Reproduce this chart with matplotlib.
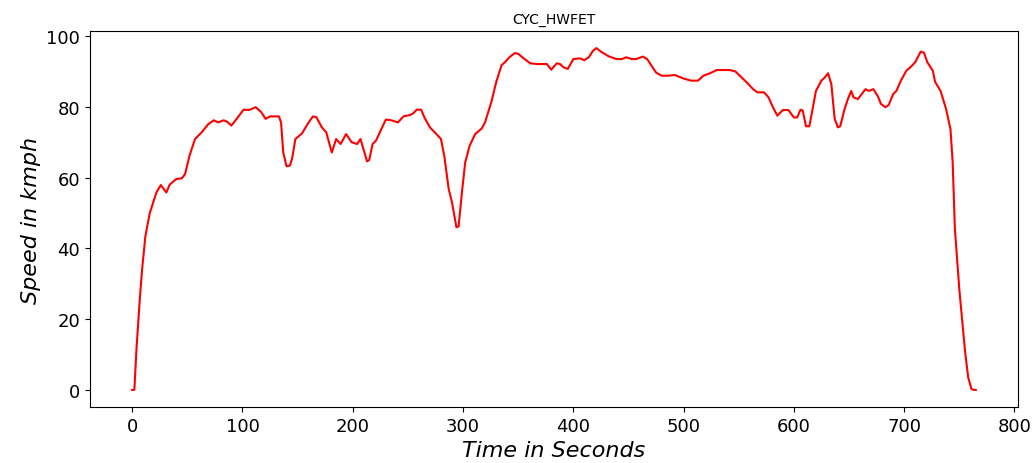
import matplotlib
matplotlib.use("Agg")
import matplotlib.pyplot as plt
import numpy as np

# Highway fuel economy test cycle: time (s) and speed (km/h)
time_s = [0, 2, 4, 7, 9, 12, 16, 22, 26, 31, 34, 40, 45, 48, 52, 57, 63, 69, 74, 78,
          83, 86, 90, 95, 101, 106, 112, 117, 121, 125, 133, 135, 137, 140, 143, 145, 148, 154,
          160, 164, 167, 172, 176, 181, 185, 189, 194, 199, 204, 207, 213, 215, 218, 221,
          226, 230, 235, 241, 246, 252, 255, 258, 262, 265, 270, 275, 280, 283, 287, 290,
          294, 296, 299, 302, 306, 311, 317, 320, 326, 330, 335, 338, 342, 347, 350, 355,
          361, 367, 376, 380, 385, 388, 391, 395, 400, 406, 410, 414, 418, 421, 425, 432,
          439, 444, 448, 453, 457, 463, 467, 471, 475, 480, 486, 492, 496, 501, 507, 513,
          518, 524, 530, 536, 542, 547, 552, 558, 563, 567, 573, 577, 581, 585, 590, 595,
          600, 603, 606, 608, 611, 614, 617, 620, 625, 628, 631, 634, 637, 640, 642, 646,
          649, 652, 654, 658, 665, 668, 672, 676, 679, 683, 686, 690, 693, 697, 702, 706,
          710, 715, 718, 721, 726, 728, 733, 738, 742, 744, 746, 750, 755, 758, 761, 763, 765]
speed_kmph = [0.0, 0.0, 12.0, 26.0, 34.0, 43.5, 50.0, 55.8, 57.9, 55.8, 58.0, 59.6, 59.8, 61.0,
              66.2, 70.9, 72.8, 75.1, 76.2, 75.6, 76.2, 75.8, 74.7, 76.7, 79.2, 79.1, 79.9,
              78.5, 76.6, 77.3, 77.3, 75.6, 67.1, 63.2, 63.4, 65.3, 70.9, 72.5, 75.6, 77.3,
              77.1, 74.2, 72.8, 67.1, 70.9, 69.5, 72.3, 70.0, 69.5, 70.9, 64.6, 65.0, 69.5,
              70.4, 73.7, 76.4, 76.2, 75.6, 77.3, 77.7, 78.2, 79.2, 79.2, 77.0, 74.2, 72.6,
              70.9, 66.2, 56.8, 53.0, 46.0, 46.2, 55.8, 64.3, 69.0, 72.3, 73.9, 75.6, 81.7,
              86.9, 91.8, 92.6, 94.0, 95.2, 95.0, 93.7, 92.3, 92.1, 92.1, 90.5, 92.3, 92.1,
              91.2, 90.7, 93.5, 93.7, 93.2, 94.0, 95.9, 96.6, 95.6, 94.3, 93.5, 93.5, 94.0,
              93.5, 93.5, 94.2, 93.5, 91.6, 89.7, 88.8, 88.8, 89.0, 88.5, 87.9, 87.4, 87.4,
              88.8, 89.5, 90.4, 90.4, 90.4, 90.0, 88.5, 86.7, 85.0, 84.1, 84.1, 82.7, 79.9,
              77.5, 79.1, 79.1, 77.0, 77.0, 79.2, 79.0, 74.5, 74.5, 79.4, 84.5, 87.4, 88.3,
              89.5, 86.4, 76.6, 74.2, 74.5, 79.4, 82.2, 84.5, 82.7, 82.2, 85.0, 84.5, 85.0,
              83.1, 80.8, 79.9, 80.5, 83.6, 84.5, 87.4, 90.2, 91.3, 92.6, 95.6, 95.3, 92.6,
              90.2, 87.1, 84.5, 79.4, 73.7, 64.3, 45.5, 28.5, 11.6, 3.6, 0.3, 0.0, 0.0]

t = np.array(time_s, dtype=float)
v = np.array(speed_kmph, dtype=float)

fig = plt.figure(figsize=(10.33, 4.64), dpi=100)
ax = fig.add_axes([0.0871, 0.1207, 0.8984, 0.8103])
ax.plot(t, v, color="red", linewidth=1.5)

ax.set_title("CYC_HWFET", fontsize=10)
ax.set_xlabel("Time in Seconds", fontsize=16, fontstyle="italic")
ax.set_ylabel("Speed in kmph", fontsize=16, fontstyle="italic")
ax.tick_params(axis="both", labelsize=13)
ax.set_xticks([0, 100, 200, 300, 400, 500, 600, 700, 800])
ax.set_yticks([0, 20, 40, 60, 80, 100])

fig.savefig("out.png", dpi=100)
